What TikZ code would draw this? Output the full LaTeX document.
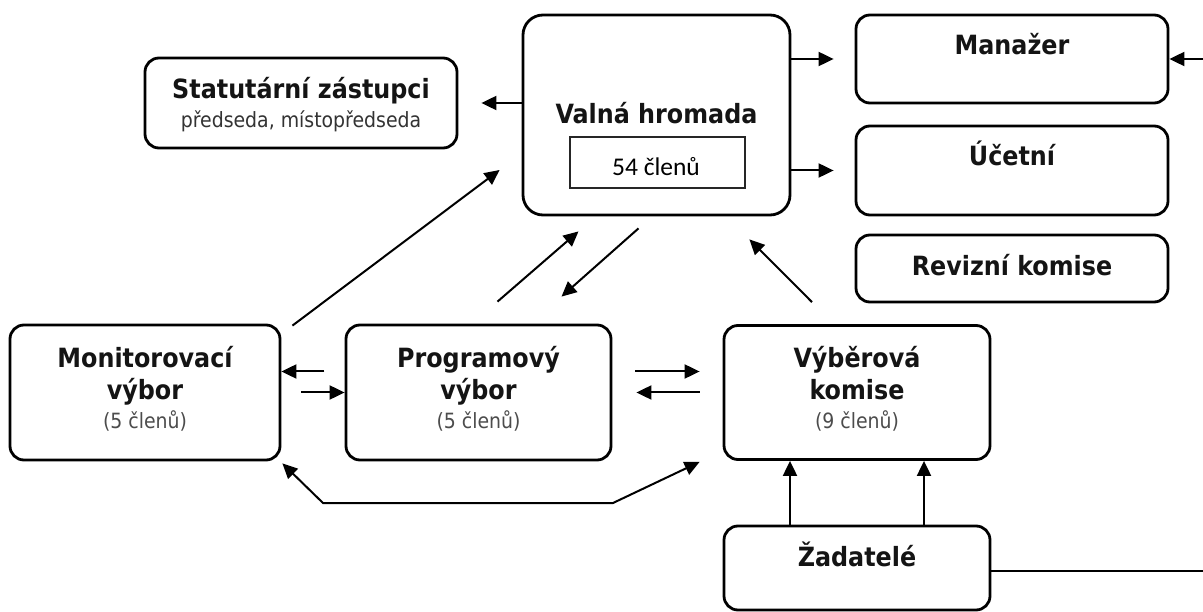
\documentclass[tikz,border=0pt]{standalone}
\usepackage{fontspec}
\setmainfont{DejaVu Sans Condensed}
\newfontfamily\carl{Carlito}
\usetikzlibrary{arrows.meta}
\begin{document}
\begin{tikzpicture}[x=1pt,y=1pt,
 box/.style={draw=black, line width=2.8pt, rounded corners=14pt, fill=white, inner sep=0pt},
 ttl/.style={font=\fontsize{26.5}{31}\selectfont\bfseries, text=black!92, inner sep=0pt, text height=19pt, text depth=5pt},
 sub/.style={font=\fontsize{21}{25}\selectfont, text=black!70, inner sep=0pt, text height=15pt, text depth=4pt},
 tip/.tip={Triangle[length=15pt,width=14pt]},
 arr/.style={line width=2pt, -tip},
 arrb/.style={line width=2pt, tip-tip},
 ln/.style={line width=2pt}]
\useasboundingbox (0,0) rectangle (1203,-612);

% boxes
\node[box, rounded corners=20pt, minimum width=267pt, minimum height=200pt] (valna) at (656.5,-115) {};
\node[box, minimum width=312pt, minimum height=90pt] (stat) at (301,-103) {};
\node[box, minimum width=312pt, minimum height=88pt] (man) at (1012,-59) {};
\node[box, minimum width=312pt, minimum height=89pt] (uc) at (1012,-170.5) {};
\node[box, minimum width=312pt, minimum height=67pt] (rev) at (1012,-268.5) {};
\node[box, minimum width=270pt, minimum height=135pt] (mon) at (145,-392.5) {};
\node[box, minimum width=265pt, minimum height=135pt] (prog) at (478.5,-392.5) {};
\node[box, minimum width=266pt, minimum height=134pt] (vyb) at (857,-392.5) {};
\node[box, minimum width=266pt, minimum height=84pt] (zad) at (857,-568) {};

% texts
\node[ttl] (statT) at (301,-92) {Statutární zástupci};
\node[sub, text=black!80] (statS) at (301,-122) {předseda, místopředseda};
\node[ttl] (valnaT) at (656.5,-117) {Valná hromada};
\node[draw=black!85, line width=1.5pt, fill=white, minimum width=175pt, minimum height=51pt, inner sep=0pt] (clen) at (657.5,-162.5) {};
\node[font=\carl\fontsize{25.5}{29}\selectfont, inner sep=0pt] (clenT) at (656,-167) {54 členů};
\node[ttl] (manT) at (1012,-48) {Manažer};
\node[ttl] (ucT) at (1012,-159) {Účetní};
\node[ttl] (revT) at (1012,-269) {Revizní komise};
\node[ttl] (monT1) at (145,-361) {Monitorovací};
\node[ttl] (monT2) at (145,-393) {výbor};
\node[sub] (monS) at (145,-423) {(5 členů)};
\node[ttl] (progT1) at (478.5,-361) {Programový};
\node[ttl] (progT2) at (478.5,-393) {výbor};
\node[sub] (progS) at (478.5,-423) {(5 členů)};
\node[ttl] (vybT1) at (857,-361) {Výběrová};
\node[ttl] (vybT2) at (857,-393) {komise};
\node[sub] (vybS) at (857,-423) {(9 členů)};
\node[ttl] (zadT) at (857,-559) {Žadatelé};

% edge coordinates
\coordinate (redgeTop) at (1203,-59);
\coordinate (redgeBot) at (1203,-571);
\coordinate (bl) at (323,-503);
\coordinate (br) at (613,-503);

% connectors
\draw[arr] (valna.west |- stat.east) -- ([xshift=23pt]stat.east);
\draw[arr] (valna.east |- man.west) -- ([xshift=-21pt]man.west);
\draw[arr] (valna.east |- uc.west) -- ([xshift=-21pt]uc.west);
\draw[arr] (redgeTop) -- (man.east);
\draw[ln] (zad.east |- redgeBot) -- (redgeBot);
\draw[arr] ([xshift=-67pt]zad.north) -- ([xshift=-67pt]vyb.south);
\draw[arr] ([xshift=67pt]zad.north) -- ([xshift=67pt]vyb.south);
\draw[arr] ([shift={(43pt,21pt)}]mon.east) -- ([yshift=21pt]mon.east);
\draw[arr] ([xshift=20pt]mon.east) -- (prog.west);
\draw[arr] ([shift={(23pt,21pt)}]prog.east) -- ([shift={(-23pt,21pt)}]vyb.west);
\draw[arr] ([xshift=-23pt]vyb.west) -- ([xshift=24pt]prog.east);
\draw[arrb] ([shift={(1pt,-2pt)}]mon.south east) -- (bl) -- (br) -- ([shift={(-23pt,-1pt)}]vyb.south west);
\draw[arr] ([shift={(11pt,-2pt)}]mon.north east) -- ([shift={(-22pt,-55pt)}]valna.west);
\draw[arr] ([shift={(19pt,22pt)}]prog.north) -- ([shift={(-78pt,-15pt)}]valna.south);
\draw[arr] ([shift={(-18pt,-12pt)}]valna.south) -- ([shift={(83pt,27pt)}]prog.north);
\draw[arr] ([shift={(-45pt,22pt)}]vyb.north) -- ([shift={(-42pt,-23pt)}]valna.south east);
\end{tikzpicture}
\end{document}
